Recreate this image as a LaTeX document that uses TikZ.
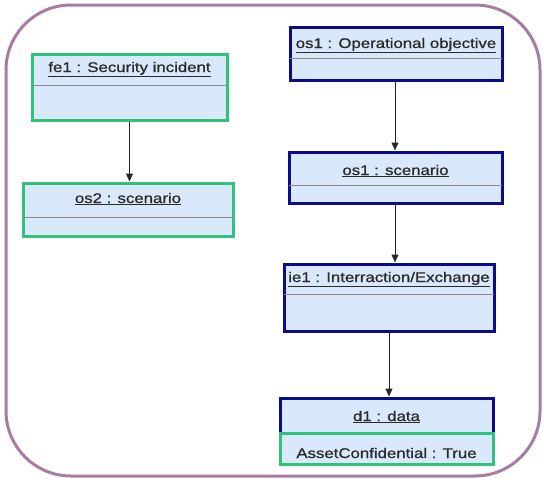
\documentclass[tikz,border=0pt]{standalone}
\usepackage{fontspec}
\setmainfont{Liberation Sans}
\newfontfamily\boxfont[FakeStretch=1.2,FakeBold=0.9]{Liberation Sans}
\usetikzlibrary{arrows.meta}
\definecolor{frame}{HTML}{A87CA0}
\definecolor{boxfill}{HTML}{DAE8FC}
\definecolor{navy}{HTML}{0C0C8A}
\definecolor{mint}{HTML}{2EC27A}
\definecolor{rule}{HTML}{8A8A8A}
\definecolor{ink}{HTML}{2A2A2A}
\tikzset{
  objbox/.style={draw, fill=boxfill, line width=3pt, inner sep=0pt},
  bluebox/.style={objbox, draw=navy},
  greenbox/.style={objbox, draw=mint},
  boxtext/.style={text=ink, font=\boxfont\fontsize{14}{16}\selectfont},
  title/.style={boxtext, anchor=base, inner sep=0pt},
  divider/.style={draw=rule, line width=0.8pt},
  link/.style={draw=black!85, line width=1pt, -{Triangle[length=8pt,width=7pt]}},
}
\newcommand{\objname}[1]{\underline{#1}}
\begin{document}
\begin{tikzpicture}[x=1pt, y=-1pt]
  \useasboundingbox (0,0) rectangle (544,482);
  % enclosing frame
  \draw[frame, line width=3pt, rounded corners=65pt] (6,5) rectangle (540,476);

  % left column
  \node[greenbox, minimum width=195pt, minimum height=66pt] (fe1) at (129.5,87) {};
  \node[title] at (129.5,72) {\objname{fe1 : Security incident}};
  \draw[divider] ([xshift=1.5pt]fe1.west |- 0,85) -- ([xshift=-1.5pt]fe1.east |- 0,85);

  \node[greenbox, minimum width=210pt, minimum height=53pt] (os2) at (128,209.5) {};
  \node[title] at (128,203) {\objname{os2 : scenario}};
  \draw[divider] ([xshift=1.5pt]os2.west |- 0,217) -- ([xshift=-1.5pt]os2.east |- 0,217);

  % right column
  \node[bluebox, minimum width=212pt, minimum height=53pt] (obj) at (396,53.5) {};
  \node[title] at (396,48) {\objname{os1 : Operational objective}};
  \draw[divider] ([xshift=1.5pt]obj.west |- 0,58) -- ([xshift=-1.5pt]obj.east |- 0,58);

  \node[bluebox, minimum width=213pt, minimum height=51pt] (os1) at (395.5,177.5) {};
  \node[title] at (395.5,175) {\objname{os1 : scenario}};
  \draw[divider] ([xshift=1.5pt]os1.west |- 0,185) -- ([xshift=-1.5pt]os1.east |- 0,185);

  \node[bluebox, minimum width=210pt, minimum height=67pt] (ie1) at (389,297.5) {};
  \node[title] at (389,282) {\objname{ie1 : Interraction/Exchange}};
  \draw[divider] ([xshift=1.5pt]ie1.west |- 0,294) -- ([xshift=-1.5pt]ie1.east |- 0,294);

  \node[bluebox, minimum width=213pt, minimum height=35pt] (d1) at (386.5,415.5) {};
  \node[title] at (386.5,421) {\objname{d1 : data}};

  \node[greenbox, minimum width=213pt, minimum height=31pt] (asset) at (386.5,448.5) {};
  \node[title] at (386.5,458) {AssetConfidential : True};

  % connectors, kept vertical
  \draw[link] (fe1.south) -- (fe1.south |- os2.north);
  \draw[link] (obj.south -| 395,0) -- (os1.north -| 395,0);
  \draw[link] (os1.south -| 395,0) -- (ie1.north -| 395,0);
  \draw[link] (ie1.south) -- (ie1.south |- d1.north);
\end{tikzpicture}
\end{document}
